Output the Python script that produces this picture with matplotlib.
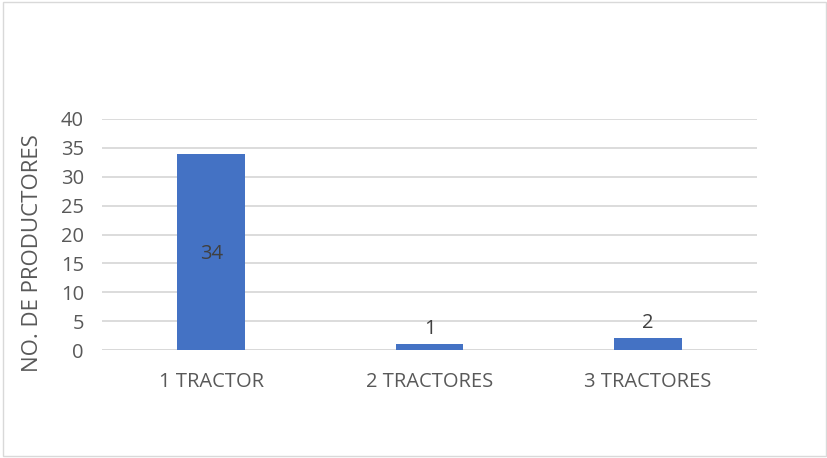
import matplotlib.pyplot as plt
from matplotlib.patches import Rectangle

# Data
categories = ['1 TRACTOR', '2 TRACTORES', '3 TRACTORES']
productores = [34, 1, 2]
yticks = [0, 5, 10, 15, 20, 25, 30, 35, 40]

bar_color = '#4472C4'
text_color = '#595959'
grid_color = '#D9D9D9'

plt.rcParams['font.family'] = ['Open Sans', 'DejaVu Sans']

fig = plt.figure(figsize=(8.28, 4.58), dpi=100)
ax = fig.add_axes([102 / 828, 1 - 350 / 458, 655 / 828, 231 / 458])

x = range(len(categories))
bars = ax.bar(x, productores, width=0.31, color=bar_color, zorder=3)

# Data labels: inside for the tall bar, above for the small ones
for xi, v in zip(x, productores):
    if v > 10:
        ax.text(xi, v / 2 - 0.3, str(v), ha='center', va='center', fontsize=14.5, color='#404040', zorder=4)
    else:
        ax.text(xi, v + 0.9, str(v), ha='center', va='bottom', fontsize=14.5, color='#404040', zorder=4)

ax.set_xlim(-0.5, 2.5)
ax.set_ylim(0, 40)
ax.set_yticks(yticks)
ax.set_xticks(list(x))
ax.set_xticklabels(categories)
ax.tick_params(axis='both', length=0, labelsize=14.5, colors=text_color)
ax.tick_params(axis='y', pad=13)
ax.tick_params(axis='x', pad=16)
ax.yaxis.grid(True, color=grid_color, linewidth=1.3, zorder=0)
for s in ax.spines.values():
    s.set_visible(False)
ax.axhline(0, color=grid_color, linewidth=1.3, zorder=1)

ax.set_ylabel('NO. DE PRODUCTORES', fontsize=16, color=text_color)
ax.yaxis.set_label_coords(-0.09, 0.42)

# light frame around the chart area
fig.patches.append(Rectangle((3 / 828, 2 / 458), 823 / 828, 454 / 458, transform=fig.transFigure,
                             fill=False, edgecolor=grid_color, linewidth=1))

plt.savefig('out.png', dpi=100)
